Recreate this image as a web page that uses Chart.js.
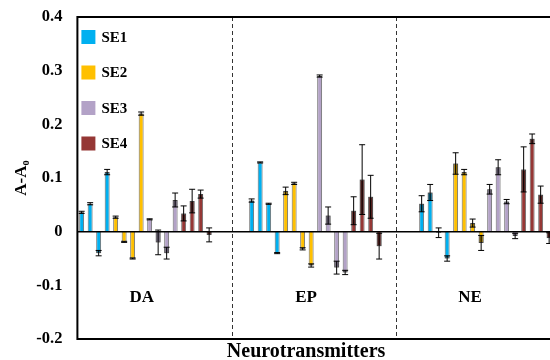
<!DOCTYPE html>
<html>
<head>
<meta charset="utf-8">
<script src="https://cdn.jsdelivr.net/npm/chart.js@4"></script>
<style>
html, body { margin: 0; padding: 0; overflow: hidden; background: #fff; }
</style>
</head>
<body>
<canvas id="chart" width="600" height="360"></canvas>
<script>
const groups = ['DA', 'EP', 'NE'];
const seriesNames = ['SE1', 'SE2', 'SE3', 'SE4'];
const seriesColors = ['#00B0F0', '#FFC000', '#B3A2C7', '#953735'];

// 4 bars per series in each group, groups in order DA, EP, NE
const se1 = [0.036, 0.052, -0.040, 0.111, 0.058, 0.129, 0.052, -0.040, 0.052, 0.073, -0.002, -0.050];
const se2 = [0.027, -0.019, -0.050, 0.220, 0.076, 0.090, -0.032, -0.063, 0.127, 0.111, 0.016, -0.021];
const se3 = [0.023, -0.020, -0.040, 0.059, 0.290, 0.030, -0.067, -0.076, 0.079, 0.120, 0.056, -0.008];
const se4 = [0.034, 0.057, 0.070, -0.006, 0.039, 0.097, 0.065, -0.027, 0.116, 0.173, 0.069, -0.012];

const se1Err = [0.002, 0.002, 0.005, 0.005, 0.003, 0.001, 0.001, 0.001, 0.015, 0.015, 0.009, 0.005];
const se2Err = [0.002, 0.001, 0.001, 0.003, 0.007, 0.002, 0.002, 0.003, 0.020, 0.005, 0.0075, 0.014];
const se3Err = [0.001, 0.023, 0.011, 0.013, 0.002, 0.016, 0.012, 0.004, 0.009, 0.014, 0.004, 0.005];
const se4Err = [0.014, 0.022, 0.0075, 0.013, 0.026, 0.065, 0.040, 0.024, 0.042, 0.009, 0.016, 0.010];

const yTicks = [-0.2, -0.1, 0, 0.1, 0.2, 0.3, 0.4];

const SLOTS = 20;      // slots per group (16 bars + 4 empty)
const PER = 4;         // bars per series per group
const FONT = "'Liberation Serif', 'Times New Roman', serif";

const allValues = [se1, se2, se3, se4];
const allErrs = [se1Err, se2Err, se3Err, se4Err];

const labels = [];
for (let i = 0; i < groups.length * SLOTS; i++) labels.push('');

function spread(arr, s) {
  const out = new Array(labels.length).fill(null);
  groups.forEach((g, gi) => {
    for (let k = 0; k < PER; k++) {
      out[gi * SLOTS + s * PER + k] = arr[gi * PER + k];
    }
  });
  return out;
}

const datasets = seriesNames.map((name, s) => ({
  label: name,
  data: spread(allValues[s], s),
  errors: spread(allErrs[s], s),
  backgroundColor: seriesColors[s],
  borderColor: 'rgba(60,60,60,0.75)',
  borderWidth: 1,
  grouped: false,
  barPercentage: 0.58,
  categoryPercentage: 1
}));

const decor = {
  id: 'decor',
  afterDatasetsDraw(chart) {
    const ctx = chart.ctx;
    const area = chart.chartArea;
    const x = chart.scales.x;
    const y = chart.scales.y;
    ctx.save();

    // error bars
    chart.data.datasets.forEach((ds, di) => {
      const meta = chart.getDatasetMeta(di);
      ds.data.forEach((v, i) => {
        const e = ds.errors[i];
        if (v === null || e === null) return;
        const el = meta.data[i];
        const bx = el.x, bw = el.width;
        const lo = Math.max(Math.min(0, v), v - e);
        const hi = Math.min(Math.max(0, v), v + e);
        if (hi > lo) {
          ctx.fillStyle = 'rgba(0,0,0,0.35)';
          const p1 = y.getPixelForValue(hi), p2 = y.getPixelForValue(lo);
          ctx.fillRect(bx - bw / 2, p1, bw, p2 - p1);
        }
        const top = y.getPixelForValue(v + e);
        const bot = y.getPixelForValue(v - e);
        ctx.strokeStyle = '#000';
        ctx.lineWidth = 1;
        ctx.beginPath();
        ctx.moveTo(bx, top); ctx.lineTo(bx, bot);
        ctx.moveTo(bx - 3, top); ctx.lineTo(bx + 3, top);
        ctx.moveTo(bx - 3, bot); ctx.lineTo(bx + 3, bot);
        ctx.stroke();
      });
    });

    // zero line
    const y0 = y.getPixelForValue(0);
    ctx.strokeStyle = '#000';
    ctx.lineWidth = 1.5;
    ctx.beginPath();
    ctx.moveTo(area.left, y0); ctx.lineTo(area.right, y0);
    ctx.stroke();

    // dashed separators
    ctx.setLineDash([4, 3]);
    ctx.lineWidth = 1;
    ctx.strokeStyle = '#333';
    [17.7, 37.0].forEach(pos => {
      const px = Math.round(x.getPixelForValue(pos)) + 0.5;
      ctx.beginPath();
      ctx.moveTo(px, area.top); ctx.lineTo(px, area.bottom);
      ctx.stroke();
    });
    ctx.setLineDash([]);

    // frame
    ctx.lineWidth = 2;
    ctx.strokeStyle = '#000';
    ctx.strokeRect(area.left, area.top, area.right - area.left, area.bottom - area.top);

    // legend
    ctx.font = 'bold 15px ' + FONT;
    ctx.textBaseline = 'middle';
    ctx.textAlign = 'left';
    chart.data.datasets.forEach((ds, i) => {
      const cy = area.top + 20 + i * 35.5;
      ctx.fillStyle = ds.backgroundColor;
      ctx.fillRect(area.left + 4, cy - 7, 14, 14);
      ctx.fillStyle = '#000';
      ctx.fillText(ds.label, area.left + 24, cy + 1);
    });

    // group labels
    ctx.font = 'bold 17px ' + FONT;
    ctx.textAlign = 'center';
    const groupPos = [7.06, 26.4, 45.7];
    groups.forEach((g, gi) => {
      ctx.fillText(g, x.getPixelForValue(groupPos[gi]), y.getPixelForValue(-0.123));
    });

    // x title
    ctx.font = 'bold 20px ' + FONT;
    ctx.fillText('Neurotransmitters', x.getPixelForValue(26.4), 352);
    ctx.restore();
  }
};

new Chart(document.getElementById('chart'), {
  type: 'bar',
  data: { labels: labels, datasets: datasets },
  options: {
    responsive: false,
    animation: false,
    devicePixelRatio: 1,
    layout: { padding: { left: 0, right: 12.6, top: 17, bottom: 0 } },
    plugins: { legend: { display: false }, tooltip: { enabled: false } },
    scales: {
      x: {
        ticks: { display: false },
        grid: { display: false, drawTicks: false },
        border: { display: false },
        afterFit(scale) { scale.height = 21; scale.paddingLeft = 0; scale.paddingRight = 0; }
      },
      y: {
        min: -0.2,
        max: 0.4,
        afterBuildTicks(scale) { scale.ticks = yTicks.map(v => ({ value: v })); },
        ticks: {
          padding: 15,
          color: '#000',
          font: { family: FONT, size: 16.5, weight: 'bold' },
          callback: v => String(Math.round(v * 10) / 10)
        },
        grid: { display: false, drawTicks: false },
        border: { display: false },
        title: {
          display: true,
          text: 'A-A\u2080',
          color: '#000',
          font: { family: FONT, size: 17, weight: 'bold', lineHeight: 1 },
          padding: { top: 13.5, bottom: 0 }
        },
        afterFit(scale) { scale.width = 77.4; scale.paddingTop = 0; scale.paddingBottom = 0; }
      }
    }
  },
  plugins: [decor]
});
</script>
</body>
</html>
